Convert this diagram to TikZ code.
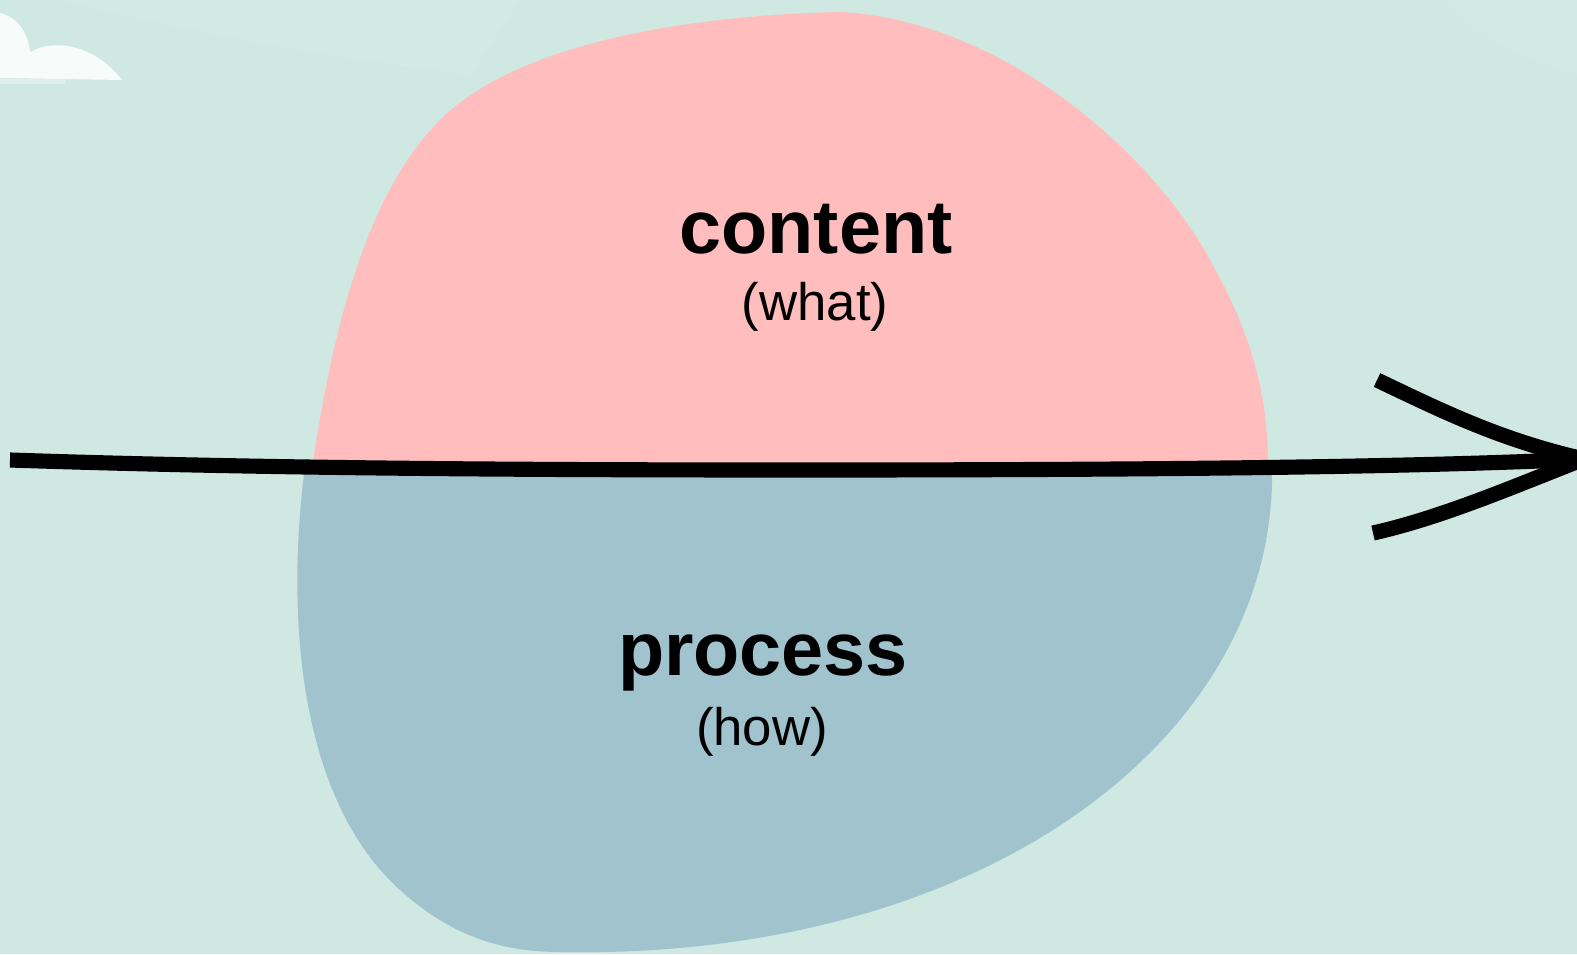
\documentclass[tikz,border=0pt]{standalone}
\usepackage{fontspec}
\setmainfont{Liberation Sans}
\definecolor{bgc}{HTML}{CFE8E1}
\definecolor{pinkc}{HTML}{FFBEBD}
\definecolor{bluec}{HTML}{A1C3CE}
\tikzset{
  mainlabel/.style={anchor=base, font=\bfseries\fontsize{21.5}{25}\selectfont, text=black, inner sep=0pt},
  sublabel/.style={anchor=base, font=\fontsize{15}{18}\selectfont, text=black, inner sep=0pt},
  thickline/.style={line width=4.3pt, line cap=butt, draw=black},
}
\begin{document}
\begin{tikzpicture}[x={(0.01cm,0)}, y={(0,-0.01cm)}]
\useasboundingbox (0,0) rectangle (1577,954);
\fill[bgc] (0,0) rectangle (1577,954);
% faint light streaks at top
\fill[white, opacity=0.10] (60,0) -- (520,0) .. controls (500,30) and (480,60) .. (470,75) .. controls (350,60) and (200,35) .. (60,0) -- cycle;
\fill[white, opacity=0.07] (1440,0) -- (1577,0) -- (1577,75) .. controls (1520,60) and (1470,30) .. (1440,0) -- cycle;
% cloud
\fill[white, opacity=0.85] (0,13) .. controls (20,18) and (28,35) .. (30,52) .. controls (55,38) and (95,45) .. (122,80) -- (0,78) -- cycle;
\fill[white, opacity=0.35] (0,79) rectangle (65,84);
% blobs
\fill[pinkc] (312,468) .. controls (330,350) and (360,200) .. (440,120) .. controls (520,40) and (700,15) .. (840,12) .. controls (1000,20) and (1150,150) .. (1210,260) .. controls (1255,340) and (1268,400) .. (1268,468) -- cycle;
\fill[bluec] (305,466) .. controls (285,620) and (300,800) .. (400,890) .. controls (450,935) and (500,952) .. (560,952) .. controls (980,960) and (1278,740) .. (1272,466) -- cycle;
% labels
\node[mainlabel] (content) at (816,253) {content};
\node[sublabel] (what) at (815,320) {(what)};
\node[mainlabel] (process) at (763,675) {process};
\node[sublabel] (how) at (762,745) {(how)};
% time arrow
\coordinate (start) at (10,460);
\coordinate (tip) at (1584,459);
\coordinate (upbarb) at (1377,380);
\coordinate (lowbarb) at (1373,533);
\draw[thickline] (start) .. controls (250,468) and (500,470) .. (800,470) .. controls (1100,470) and (1400,468) .. (tip);
\draw[thickline] (upbarb) .. controls (1440,410) and (1500,440) .. (tip);
\draw[thickline] (lowbarb) .. controls (1440,518) and (1510,488) .. (tip);
\end{tikzpicture}
\end{document}
